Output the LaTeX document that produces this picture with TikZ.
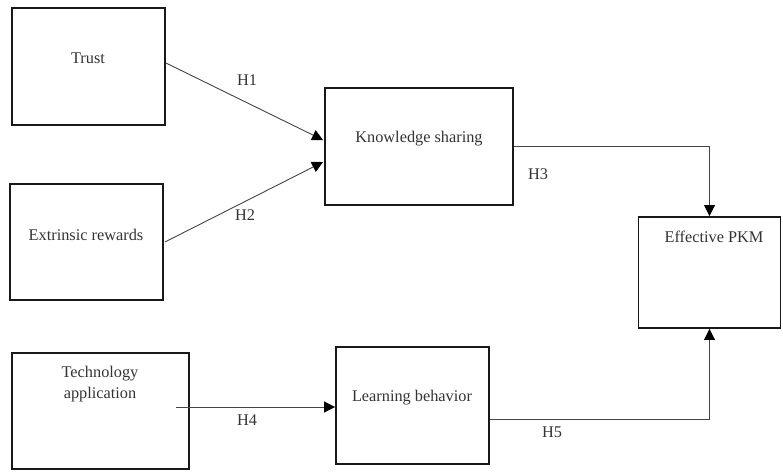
\documentclass[tikz,border=0pt]{standalone}
\usepackage{fontspec}
\setmainfont{Liberation Serif}
\usetikzlibrary{arrows.meta,calc}
\definecolor{txt}{HTML}{333333}
\definecolor{ln}{HTML}{444444}
\tikzset{
  box/.style={draw=black!90, line width=1.9pt, inner sep=0pt, fill=none},
  lbl/.style={text=txt, inner sep=0pt, font=\fontsize{16.3}{21}\selectfont, align=center},
  conn/.style={draw=ln, line width=0.9pt, -{Triangle[length=11pt,width=11pt,color=black]}},
  plain/.style={draw=ln, line width=0.9pt}
}
\begin{document}
\begin{tikzpicture}[x=1pt,y=-1pt]
\useasboundingbox (0,0) rectangle (783,471);
% boxes
\node[box, minimum width=153pt, minimum height=117pt] (trust) at (88.5,66.5) {};
\node[box, minimum width=153pt, minimum height=116pt] (extr) at (86.5,242) {};
\node[box, minimum width=188pt, minimum height=117pt] (ks) at (419,146.5) {};
\node[box, minimum width=142pt, minimum height=111pt] (pkm) at (709.5,272.5) {};
\node[box, minimum width=177pt, minimum height=116pt] (tech) at (100.5,411) {};
\node[box, minimum width=153pt, minimum height=117pt] (lb) at (412.5,405.5) {};
% texts
\node[lbl] (ttrust) at (88,58) {Trust};
\node[lbl] (textr) at (86,235) {Extrinsic rewards};
\node[lbl] (tks) at (419,139) {Knowledge sharing};
\node[lbl] (tpkm) at (714,237) {Effective PKM};
\node[lbl] (ttech) at (100,384) {Technology\\application};
\node[lbl] (tlb) at (412,398) {Learning behavior};
% hypothesis labels
\node[lbl] (h1) at (247,80) {H1};
\node[lbl] (h2) at (245,215) {H2};
\node[lbl] (h3) at (538,174) {H3};
\node[lbl] (h4) at (247,420) {H4};
\node[lbl] (h5) at (552,432) {H5};
% connector points
\coordinate (a1) at ($(trust.east)+(0,-3.5)$);
\coordinate (b1) at ($(ks.west)+(-1,-6.5)$);
\coordinate (a2) at ($(extr.east)+(1,0)$);
\coordinate (b2) at ($(ks.west)+(-1,15.5)$);
\coordinate (a4) at ($(tech.east)+(-14,-4)$);
\coordinate (b4) at ($(lb.west)+(0,1.5)$);
\coordinate (a5) at ($(lb.east)+(0,13.5)$);
% connectors
\draw[conn] (a1) -- (b1);
\draw[conn] (a2) -- (b2);
\draw[conn] (ks.east) -| (pkm.north);
\draw[conn] (a4) -- (b4);
\draw[conn] (a5) -| (pkm.south);
\end{tikzpicture}
\end{document}
